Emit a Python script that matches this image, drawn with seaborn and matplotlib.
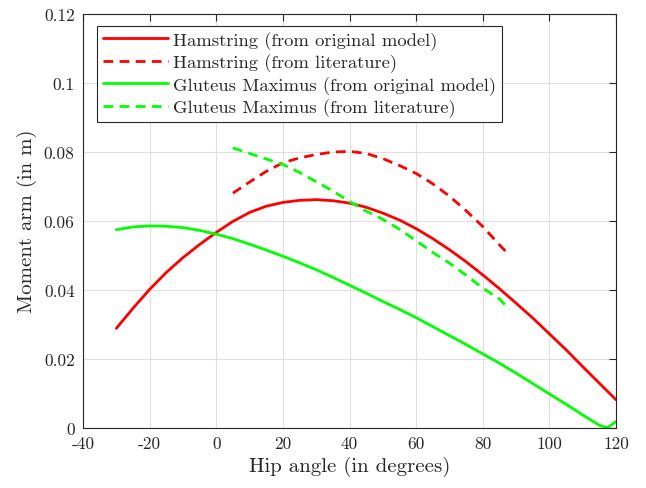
import matplotlib
matplotlib.use("Agg")
import matplotlib.pyplot as plt
import seaborn as sns
import pandas as pd

# Hip angle samples (degrees)
angle_model = [-30, -25, -20, -15, -10, -5, 0, 5, 10, 15, 20, 25, 30, 35, 40, 45,
               50, 55, 60, 65, 70, 75, 80, 85, 90, 95, 100, 105, 110, 115, 120]
angle_model_glut = [-30, -25, -20, -15, -10, -5, 0, 5, 10, 15, 20, 25, 30, 35, 40, 45,
                    50, 55, 60, 65, 70, 75, 80, 85, 90, 95, 100, 105, 110, 115, 117.5, 120]
angle_lit = [5, 10, 15, 20, 25, 30, 35, 40, 45, 50, 55, 60, 65, 70, 75, 80, 85, 88]

# Moment arms (m)
ham_model = [0.0288, 0.0346, 0.0401, 0.0450, 0.0493, 0.0531, 0.0566, 0.0598, 0.0624,
             0.0642, 0.0653, 0.0659, 0.0661, 0.0658, 0.0651, 0.0639, 0.0622, 0.0602,
             0.0577, 0.0548, 0.0516, 0.0481, 0.0443, 0.0403, 0.0361, 0.0318, 0.0272,
             0.0226, 0.0177, 0.0129, 0.0081]
ham_lit = [0.0680, 0.0712, 0.0743, 0.0768, 0.0782, 0.0792, 0.0799, 0.0801, 0.0795,
           0.0780, 0.0760, 0.0737, 0.0707, 0.0671, 0.0629, 0.0583, 0.0530, 0.0500]
glut_model = [0.0574, 0.0582, 0.0585, 0.0584, 0.0580, 0.0572, 0.0561, 0.0548, 0.0532,
              0.0515, 0.0497, 0.0478, 0.0458, 0.0436, 0.0413, 0.0390, 0.0366, 0.0343,
              0.0319, 0.0293, 0.0267, 0.0241, 0.0214, 0.0187, 0.0158, 0.0128, 0.0098,
              0.0068, 0.0037, 0.0007, 0.0000, 0.0018]
glut_lit = [0.0811, 0.0795, 0.0779, 0.0763, 0.0740, 0.0713, 0.0686, 0.0656, 0.0628,
            0.0604, 0.0575, 0.0542, 0.0508, 0.0477, 0.0442, 0.0405, 0.0373, 0.0343]

series_labels = ["Hamstring (from original model)", "Hamstring (from literature)",
                 "Gluteus Maximus (from original model)", "Gluteus Maximus (from literature)"]

xticks = [-40, -20, 0, 20, 40, 60, 80, 100, 120]
xtick_labels = ["-40", "-20", "0", "20", "40", "60", "80", "100", "120"]
yticks = [0, 0.02, 0.04, 0.06, 0.08, 0.10, 0.12]
ytick_labels = ["0", "0.02", "0.04", "0.06", "0.08", "0.1", "0.12"]

sns.set_style("white")
plt.rcParams["font.family"] = ["cmr10", "DejaVu Serif"]
plt.rcParams["axes.unicode_minus"] = False
plt.rcParams["mathtext.fontset"] = "cm"

fig = plt.figure(figsize=(6.46, 4.89), dpi=100)
ax = fig.add_axes([0.1285, 0.1233, 0.8251, 0.8466])

frames = [
    pd.DataFrame({"x": angle_model, "y": ham_model, "s": series_labels[0]}),
    pd.DataFrame({"x": angle_lit, "y": ham_lit, "s": series_labels[1]}),
    pd.DataFrame({"x": angle_model_glut, "y": glut_model, "s": series_labels[2]}),
    pd.DataFrame({"x": angle_lit, "y": glut_lit, "s": series_labels[3]}),
]
styles = [("#ff0000", "-"), ("#ff0000", "--"), ("#00ff00", "-"), ("#00ff00", "--")]

for df, (col, ls), lab in zip(frames, styles, series_labels):
    sns.lineplot(data=df, x="x", y="y", ax=ax, color=col, label=lab,
                 estimator=None, sort=False, linewidth=2.0)
    ln = ax.lines[-1]
    ln.set_linestyle(ls)
    ln.set_solid_joinstyle("round")
    if ls == "--":
        ln.set_dashes((3.5, 2.3))

ax.set_xlim(-40, 120)
ax.set_ylim(0, 0.12)
ax.set_xticks(xticks)
ax.set_xticklabels(xtick_labels)
ax.set_yticks(yticks)
ax.set_yticklabels(ytick_labels)

ax.grid(True, color="#dfdfdf", linewidth=0.8)
ax.set_axisbelow(True)
for sp in ax.spines.values():
    sp.set_visible(True)
    sp.set_color("#262626")
    sp.set_linewidth(0.8)
ax.tick_params(direction="in", length=5, width=0.8, color="#262626",
               top=True, right=True, labelsize=12.5, labelcolor="#262626", pad=6)

ax.set_xlabel("Hip angle (in degrees)", fontsize=15, color="#262626", labelpad=3)
ax.set_ylabel("Moment arm (in m)", fontsize=15, color="#262626", labelpad=5)

leg = ax.legend(loc="upper left", bbox_to_anchor=(0.027, 0.971), fontsize=13.4,
                frameon=True, fancybox=False, framealpha=1, edgecolor="#262626",
                handlelength=3.5, handletextpad=0.3, borderpad=0.28, labelspacing=0.2,
                borderaxespad=0)
leg.get_frame().set_linewidth(0.8)
for t in leg.get_texts():
    t.set_color("#262626")

fig.savefig("out.png", dpi=100)
